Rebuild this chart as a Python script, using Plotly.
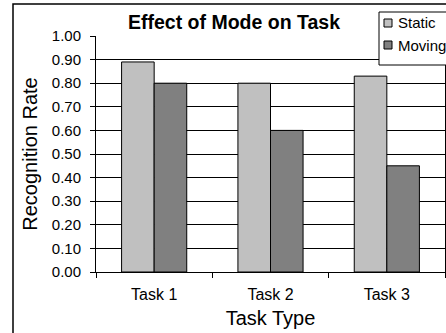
import plotly.graph_objects as go

categories = ["Task 1", "Task 2", "Task 3"]
static_vals = [0.89, 0.80, 0.83]
moving_vals = [0.80, 0.60, 0.45]
y_ticks = [0.0, 0.1, 0.2, 0.3, 0.4, 0.5, 0.6, 0.7, 0.8, 0.9, 1.0]
series_names = ["Static", "Moving"]

FONT = "Liberation Sans, Arial, sans-serif"
STATIC_COLOR = "#C0C0C0"
MOVING_COLOR = "#808080"
colors = [STATIC_COLOR, MOVING_COLOR]

fig = go.Figure()
for name, vals, col in zip(series_names, [static_vals, moving_vals], colors):
    fig.add_trace(go.Bar(name=name, x=categories, y=vals, showlegend=False,
                         marker=dict(color=col, line=dict(color="black", width=1))))

L, R, T, B = 96, 1, 36, 61
W, H = 446, 333
pw, ph = W - L - R, H - T - B

def px_to_paper_x(px):
    return (px - L) / pw

def py_to_paper_y(py):
    return (H - B - py) / ph

shapes = [dict(type="rect", xref="paper", yref="paper",
               x0=px_to_paper_x(13), y0=py_to_paper_y(340),
               x1=px_to_paper_x(460), y1=py_to_paper_y(4),
               line=dict(color="black", width=1.5), fillcolor="rgba(0,0,0,0)",
               layer="below")]

# legend box (drawn as layout decoration)
shapes.append(dict(type="rect", xref="paper", yref="paper",
                   x0=px_to_paper_x(379), y0=py_to_paper_y(65),
                   x1=px_to_paper_x(470), y1=py_to_paper_y(12),
                   line=dict(color="black", width=1), fillcolor="white", layer="above"))
annotations = []
for i, (name, col) in enumerate(zip(series_names, colors)):
    cy = 23 + 22 * i
    shapes.append(dict(type="rect", xref="paper", yref="paper",
                       x0=px_to_paper_x(384), y0=py_to_paper_y(cy + 4),
                       x1=px_to_paper_x(392), y1=py_to_paper_y(cy - 4),
                       line=dict(color="black", width=1), fillcolor=col, layer="above"))
    annotations.append(dict(text=name, xref="paper", yref="paper",
                            x=px_to_paper_x(396), y=py_to_paper_y(cy),
                            xanchor="left", yanchor="middle", showarrow=False,
                            font=dict(size=15, family=FONT, color="black")))

fig.update_layout(
    width=W, height=H,
    margin=dict(l=L, r=R, t=T, b=B, autoexpand=False),
    paper_bgcolor="white", plot_bgcolor="white",
    barmode="group", bargap=0.44, bargroupgap=0,
    font=dict(family=FONT, color="black", size=15),
    showlegend=False,
    title=dict(text="<b>Effect of Mode on Task</b>", x=px_to_paper_x(234), xref="paper",
               xanchor="center", y=1 - 22 / H, yanchor="middle",
               font=dict(size=19.5, family=FONT, color="black")),
    xaxis=dict(title=dict(text="Task Type", font=dict(size=20), standoff=8),
               tickson="boundaries", ticks="outside", ticklen=5, tickcolor="black",
               ticklabelstandoff=8,
               showline=True, linecolor="black", linewidth=1, showgrid=False,
               tickfont=dict(size=16), automargin=False),
    yaxis=dict(title=dict(text="Recognition Rate", font=dict(size=20), standoff=8),
               range=[0, 1.0], tickvals=y_ticks, tickformat=".2f",
               ticks="outside", ticklen=5, tickcolor="black", ticklabelstandoff=6,
               showline=True, linecolor="black", linewidth=1, mirror=True,
               showgrid=True, gridcolor="black", gridwidth=1,
               tickfont=dict(size=15), zeroline=False, automargin=False),
    shapes=shapes,
    annotations=annotations,
)

fig.write_html("out.html", config={"displayModeBar": False},
               post_script="document.body.style.margin='0px';")
